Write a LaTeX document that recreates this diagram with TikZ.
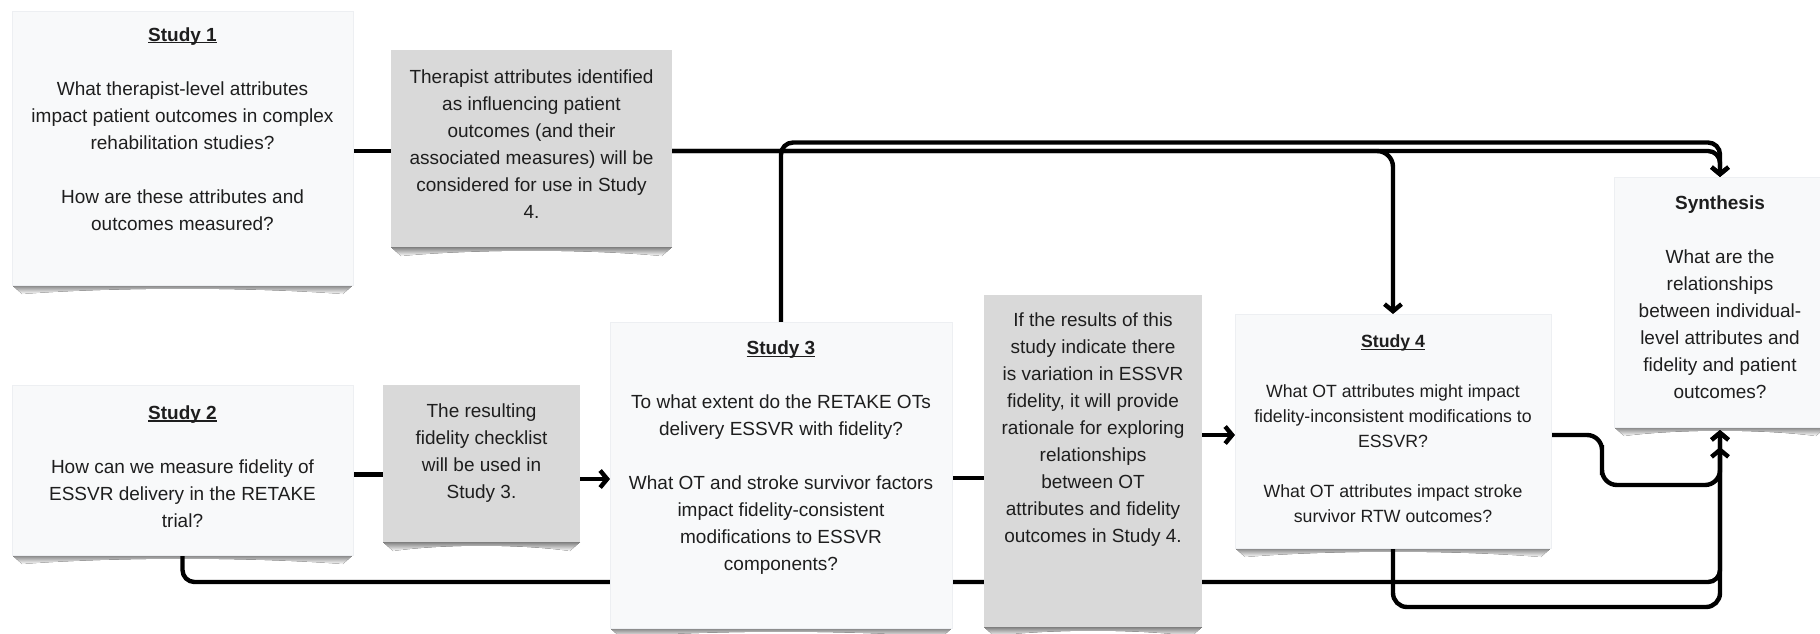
\documentclass[tikz,border=0pt]{standalone}
\usepackage{fontspec}
\setmainfont{Liberation Sans}
\usetikzlibrary{arrows.meta,calc}

\definecolor{paper}{HTML}{F8F9FA}
\definecolor{note}{HTML}{D9D9D9}
\definecolor{edgec}{HTML}{EDEFF2}
\definecolor{shade}{HTML}{EBECEE}
\definecolor{ink}{HTML}{1E1E1E}

\pgfdeclarelayer{shadows}
\pgfdeclarelayer{links}
\pgfsetlayers{shadows,links,main}

% bold title with a thin underline sitting just below the baseline
\newcommand\uln[1]{\setbox0\hbox{\bfseries #1}\rlap{\rule[-1.1pt]{\wd0}{0.55pt}}\box0}

% curled paper shadow under a box
\newcommand\papershadow[1]{%
  \fill[shade] (#1.south west) -- ([shift={(10,9)}]#1.south west)
    .. controls ($(#1.south west)!0.3!(#1.south east)+(0,2)$) and ($(#1.south west)!0.7!(#1.south east)+(0,2)$)
    .. ([shift={(-10,9)}]#1.south east) -- (#1.south east) -- cycle;}

\begin{document}
\begin{tikzpicture}[x=0.5pt,y=-0.5pt,
  paperbox/.style={rectangle, fill=paper, draw=edgec, line width=0.5pt, inner sep=0pt, outer sep=0pt},
  notebox/.style={rectangle, fill=note, draw=none, inner sep=0pt, outer sep=0pt},
  body/.style={align=center, inner sep=0pt, text=ink, font=\fontsize{9.5}{13.5}\selectfont},
  smallbody/.style={body, font=\fontsize{8.85}{12.5}\selectfont},
  link/.style={draw=black, line width=2.2pt, rounded corners=6pt},
  flow/.style={link, -{Straight Barb[length=3.5pt,width=8.5pt]}}]

\useasboundingbox (0,0) rectangle (1820,633);
\clip (0,0) rectangle (1820,633);

% boxes
\node[paperbox, minimum width=170.5pt, minimum height=137pt] (s1) at (182.5,148) {};
\node[notebox,  minimum width=140.5pt, minimum height=98.5pt] (th) at (531.5,148.5) {};
\node[paperbox, minimum width=170.5pt, minimum height=85pt] (s2) at (182.5,470) {};
\node[notebox,  minimum width=98.5pt,  minimum height=78.5pt] (chk) at (481.5,463.5) {};
\node[paperbox, minimum width=171pt,   minimum height=153pt] (s3) at (781,475) {};
\node[notebox,  minimum width=109pt,   minimum height=166pt] (res) at (1093,461) {};
\node[paperbox, minimum width=158pt,   minimum height=117pt] (s4) at (1393,431) {};
\node[paperbox, minimum width=106pt,   minimum height=125pt] (syn) at (1720,302) {};

% texts
\node[body] (s1t) at (182.5,129) {\uln{Study 1}\\[13.5pt]
  What therapist-level attributes\\ impact patient outcomes in complex\\ rehabilitation studies?\\[13.5pt]
  How are these attributes and\\ outcomes measured?};
\node[body] (tht) at (531.5,144.5) {Therapist attributes identified\\ as influencing patient\\ outcomes (and their\\ associated measures) will be\\ considered for use in Study\\ 4.};
\node[body] (s2t) at (182.5,466.5) {\uln{Study 2}\\[13.5pt]
  How can we measure fidelity of\\ ESSVR delivery in the RETAKE\\ trial?};
\node[body] (chkt) at (481.5,453) {The resulting\\ fidelity checklist\\ will be used in\\ Study 3.};
\node[body] (s3t) at (781,457.5) {\uln{Study 3}\\[13.5pt]
  To what extent do the RETAKE OTs\\ delivery ESSVR with fidelity?\\[13.5pt]
  What OT and stroke survivor factors\\ impact fidelity-consistent\\ modifications to ESSVR\\ components?};
\node[body] (rest) at (1093,430) {If the results of this\\ study indicate there\\ is variation in ESSVR\\ fidelity, it will provide\\ rationale for exploring\\ relationships\\ between OT\\ attributes and fidelity\\ outcomes in Study 4.};
\node[smallbody] (s4t) at (1393,429) {\uln{Study 4}\\[12.5pt]
  What OT attributes might impact\\ fidelity-inconsistent modifications to\\ ESSVR?\\[12.5pt]
  What OT attributes impact stroke\\ survivor RTW outcomes?};
\node[body] (synt) at (1720,297.5) {\textbf{Synthesis}\\[13.5pt]
  What are the\\ relationships\\ between individual-\\ level attributes and\\ fidelity and patient\\ outcomes?};

% helper levels for the long routed connectors
\coordinate (busTop) at (1000,142.5);
\coordinate (busMid) at (1000,485);
\coordinate (busLow) at (1000,582);
\coordinate (busBot) at (1000,607);
\coordinate (jog) at (1602,460);

\begin{pgfonlayer}{shadows}
  \fill[white] (0,0) rectangle (1820,633);
  \papershadow{s1}
  \papershadow{th}
  \papershadow{s2}
  \papershadow{chk}
  \papershadow{s3}
  \papershadow{res}
  \papershadow{s4}
  \papershadow{syn}
\end{pgfonlayer}

\begin{pgfonlayer}{links}
  % Study 1 and its outcome note
  \draw[link] ([yshift=-1.5pt]s1.east) -- ([yshift=-1.5pt]s1.east -| th.west);
  \draw[flow] ([yshift=-1.25pt]th.east) -| (syn.north);
  \draw[flow, rounded corners=8pt] ([yshift=-1.25pt]th.east) -| (s4.north);
  % Study 3 over the top to the synthesis
  \draw[flow] (s3.north) |- (busTop -| syn.north) -- (syn.north);
  % Study 2 -> checklist -> Study 3
  \draw[link] ([yshift=-2.25pt]s2.east) -- ([yshift=-2.25pt]s2.east -| chk.west);
  \draw[flow] ([yshift=-2pt]s3.west -| chk.east) -- ([yshift=-2pt]s3.west);
  % Study 3 -> results note -> Study 4
  \draw[link] ([yshift=-1.5pt]s3.east) -- ([yshift=-1.5pt]s3.east -| res.west);
  \draw[flow] ([yshift=-2pt]s4.west -| res.east) -- ([yshift=-2pt]s4.west);
  % routes into the bottom of the synthesis
  \draw[flow] (s2.south) |- (busLow -| syn.south) -- ([yshift=-10pt]syn.south);
  \draw[flow, rounded corners=7.5pt] ([yshift=-2pt]s4.east) -| (jog) |- (busMid -| syn.south) -- ([yshift=-1.5pt]syn.south);
  \draw[flow, rounded corners=7pt] (s4.south) |- (busBot -| syn.south) -- ([yshift=-1.5pt]syn.south);
\end{pgfonlayer}

\end{tikzpicture}
\end{document}
